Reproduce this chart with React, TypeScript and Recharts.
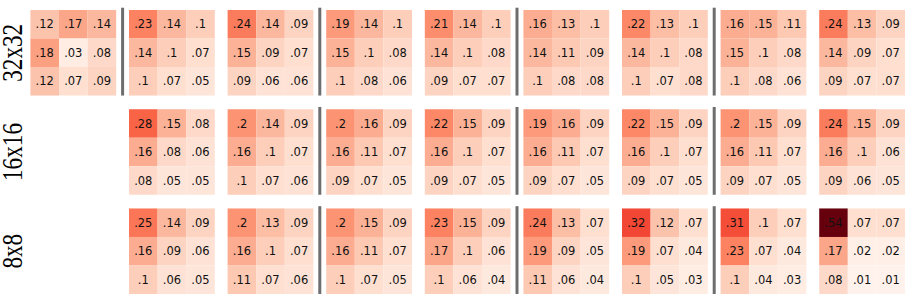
import React from "react";
import { ScatterChart, Scatter, XAxis, YAxis, ReferenceArea, ReferenceLine } from "recharts";

// Row labels (resolutions)
const rowLabels = ["32x32", "16x16", "8x8"];

// Each grid is a 3x3 matrix; null = empty slot
const row32: (number[][] | null)[] = [
  [[0.12, 0.17, 0.14], [0.18, 0.03, 0.08], [0.12, 0.07, 0.09]],
  [[0.23, 0.14, 0.1], [0.14, 0.1, 0.07], [0.1, 0.07, 0.05]],
  [[0.24, 0.14, 0.09], [0.15, 0.09, 0.07], [0.09, 0.06, 0.06]],
  [[0.19, 0.14, 0.1], [0.15, 0.1, 0.08], [0.1, 0.08, 0.06]],
  [[0.21, 0.14, 0.1], [0.14, 0.1, 0.08], [0.09, 0.07, 0.07]],
  [[0.16, 0.13, 0.1], [0.14, 0.11, 0.09], [0.1, 0.08, 0.08]],
  [[0.22, 0.13, 0.1], [0.14, 0.1, 0.08], [0.1, 0.07, 0.08]],
  [[0.16, 0.15, 0.11], [0.15, 0.1, 0.08], [0.1, 0.08, 0.06]],
  [[0.24, 0.13, 0.09], [0.14, 0.09, 0.07], [0.09, 0.07, 0.07]],
];

const row16: (number[][] | null)[] = [
  null,
  [[0.28, 0.15, 0.08], [0.16, 0.08, 0.06], [0.08, 0.05, 0.05]],
  [[0.2, 0.14, 0.09], [0.16, 0.1, 0.07], [0.1, 0.07, 0.06]],
  [[0.2, 0.16, 0.09], [0.16, 0.11, 0.07], [0.09, 0.07, 0.05]],
  [[0.22, 0.15, 0.09], [0.16, 0.1, 0.07], [0.09, 0.07, 0.05]],
  [[0.19, 0.16, 0.09], [0.16, 0.11, 0.07], [0.09, 0.07, 0.05]],
  [[0.22, 0.15, 0.09], [0.16, 0.1, 0.07], [0.09, 0.07, 0.05]],
  [[0.2, 0.15, 0.09], [0.16, 0.11, 0.07], [0.09, 0.07, 0.05]],
  [[0.24, 0.15, 0.09], [0.16, 0.1, 0.06], [0.09, 0.06, 0.05]],
];

const row8: (number[][] | null)[] = [
  null,
  [[0.25, 0.14, 0.09], [0.16, 0.09, 0.06], [0.1, 0.06, 0.05]],
  [[0.2, 0.13, 0.09], [0.16, 0.1, 0.07], [0.11, 0.07, 0.06]],
  [[0.2, 0.15, 0.09], [0.16, 0.11, 0.07], [0.1, 0.07, 0.05]],
  [[0.23, 0.15, 0.09], [0.17, 0.1, 0.06], [0.1, 0.06, 0.04]],
  [[0.24, 0.13, 0.07], [0.19, 0.09, 0.05], [0.11, 0.06, 0.04]],
  [[0.32, 0.12, 0.07], [0.19, 0.07, 0.04], [0.1, 0.05, 0.03]],
  [[0.31, 0.1, 0.07], [0.23, 0.07, 0.04], [0.1, 0.04, 0.03]],
  [[0.54, 0.07, 0.07], [0.17, 0.02, 0.02], [0.08, 0.01, 0.01]],
];

const rows = [row32, row16, row8];

// Separator positions: after grid index k, per row
const separators: number[][] = [
  [0, 2, 4, 6],
  [2, 4, 6],
  [2, 4, 6],
];

// layout in cell units
const GX = 3.4476; // grid pitch (x)
const GY = 3.48; // grid pitch (y)
const VMAX = 0.54;

const REDS = [
  [255, 245, 240],
  [254, 224, 210],
  [252, 187, 161],
  [252, 146, 114],
  [251, 106, 74],
  [239, 59, 44],
  [203, 24, 29],
  [165, 15, 21],
  [103, 0, 13],
];

function redsColor(v: number) {
  const t = Math.max(0, Math.min(1, v / VMAX)) * (REDS.length - 1);
  const i = Math.min(REDS.length - 2, Math.floor(t));
  const f = t - i;
  const c = REDS[i].map((a, k) => Math.round(a + (REDS[i + 1][k] - a) * f));
  return `rgb(${c[0]},${c[1]},${c[2]})`;
}

function fmt(v: number) {
  return String(v).replace(/^0/, "");
}

type Cell = { x1: number; x2: number; y1: number; y2: number; v: number; key: string };
const cells: Cell[] = [];
rows.forEach((row, r) => {
  row.forEach((grid, g) => {
    if (!grid) return;
    grid.forEach((line, i) => {
      line.forEach((v, j) => {
        cells.push({
          x1: g * GX + j,
          x2: g * GX + j + 1,
          y1: r * GY + i,
          y2: r * GY + i + 1,
          v,
          key: `${r}-${g}-${i}-${j}`,
        });
      });
    });
  });
});

const centers = cells.map((c) => ({ x: (c.x1 + c.x2) / 2, y: (c.y1 + c.y2) / 2 }));
const rowTicks = rowLabels.map((_, r) => r * GY + 1.5);

const RowTick = (props: any) => {
  const { x, y, index } = props;
  return (
    <text
      x={0}
      y={0}
      transform={`translate(${x},${y}) rotate(-90) scale(0.8,1)`}
      textAnchor="middle"
      fontFamily="'Liberation Serif', serif"
      fontSize={29}
      fill="#000"
    >
      {rowLabels[index]}
    </text>
  );
};

const makeLabel = (txt: string) => (props: any) => {
  const vb = props.viewBox || {};
  const cx = vb.x + vb.width / 2;
  const cy = vb.y + vb.height / 2;
  return (
    <text
      x={cx}
      y={cy + 4.2}
      textAnchor="middle"
      fontFamily="'DejaVu Sans', sans-serif"
      fontSize={11.5}
      fill="#111"
    >
      {txt}
    </text>
  );
};

export default function App() {
  return (
    <div style={{ position: "absolute", left: 0, top: 0, background: "#fff" }}>
      <ScatterChart width={913} height={303} margin={{ top: 10, right: 8, bottom: 9, left: 0 }}>
        <XAxis type="number" dataKey="x" domain={[0, 8 * GX + 3]} hide allowDataOverflow />
        <YAxis
          type="number"
          dataKey="y"
          domain={[0, 2 * GY + 3]}
          reversed
          allowDataOverflow
          width={30.4}
          ticks={rowTicks}
          tick={<RowTick />}
          axisLine={false}
          tickLine={false}
          tickSize={0}
          tickMargin={8}
          interval={0}
        />
        <Scatter data={centers} isAnimationActive={false} shape={() => <g />} />
        {cells.map((c) => (
          <ReferenceArea
            key={c.key}
            x1={c.x1}
            x2={c.x2}
            y1={c.y1}
            y2={c.y2}
            fill={redsColor(c.v)}
            fillOpacity={1}
            stroke="none"
            ifOverflow="visible"
            label={makeLabel(fmt(c.v))}
          />
        ))}
        {separators.map((list, r) =>
          list.map((k) => {
            const sx = k * GX + 3 + (GX - 3) / 2;
            return (
              <ReferenceLine
                key={`sep-${r}-${k}`}
                segment={[
                  { x: sx, y: r * GY - 0.08 },
                  { x: sx, y: r * GY + 3 },
                ]}
                stroke="#6e6e6e"
                strokeWidth={3}
                ifOverflow="visible"
              />
            );
          })
        )}
      </ScatterChart>
    </div>
  );
}
